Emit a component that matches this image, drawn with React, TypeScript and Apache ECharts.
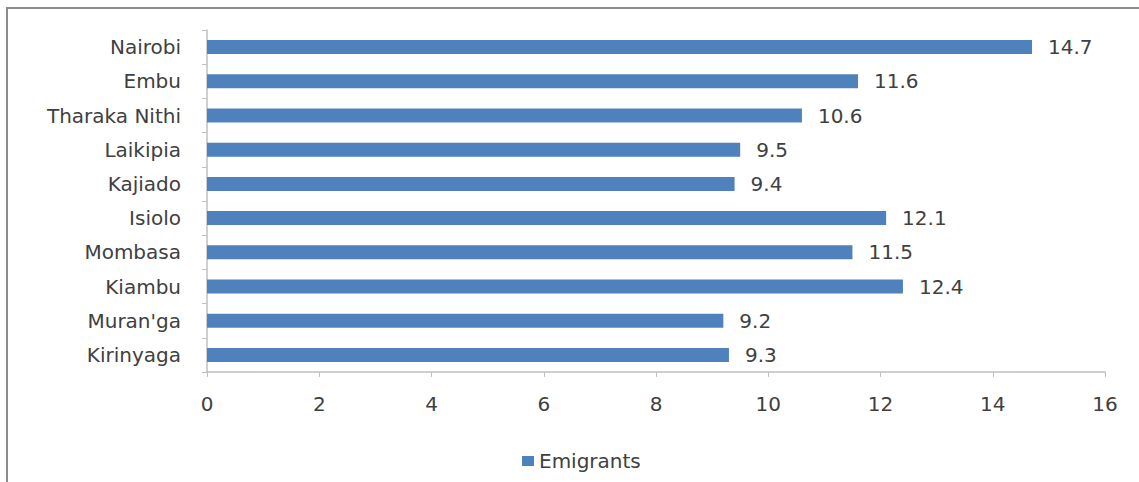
import React, { useEffect, useRef } from "react";
import * as echarts from "echarts";

const categories = ["Nairobi", "Embu", "Tharaka Nithi", "Laikipia", "Kajiado", "Isiolo", "Mombasa", "Kiambu", "Muran'ga", "Kirinyaga"];
const emigrants = [14.7, 11.6, 10.6, 9.5, 9.4, 12.1, 11.5, 12.4, 9.2, 9.3];
const seriesName = "Emigrants";

export default function App() {
  const ref = useRef<HTMLDivElement>(null);
  useEffect(() => {
    if (!ref.current) return;
    const chart = echarts.init(ref.current, null, { renderer: "svg" });
    const font = "'DejaVu Sans', sans-serif";
    const fs = 20;
    const txt = "#404040";
    chart.setOption({
      animation: false,
      backgroundColor: "#ffffff",
      textStyle: { fontFamily: font },
      graphic: [
        {
          type: "rect",
          shape: { x: 7, y: 8, width: 1145, height: 490 },
          style: { fill: "none", stroke: "#8c8c8c", lineWidth: 2 },
          silent: true,
        },
      ],
      grid: { left: 207, right: 34, top: 30, bottom: 110 },
      legend: {
        left: 517,
        top: 446,
        itemWidth: 12,
        itemHeight: 10,
        icon: "rect",
        itemGap: 8,
        data: [seriesName],
        textStyle: { fontFamily: font, fontSize: fs, color: txt },
      },
      xAxis: {
        type: "value",
        min: 0,
        max: 16,
        interval: 2,
        axisLine: { show: true, lineStyle: { color: "#bfbfbf", width: 1.5 } },
        axisTick: { show: true, length: 5, lineStyle: { color: "#bfbfbf" } },
        axisLabel: { margin: 22, fontFamily: font, fontSize: fs, color: txt },
        splitLine: { show: false },
      },
      yAxis: {
        type: "category",
        inverse: true,
        data: categories,
        axisLine: { show: true, lineStyle: { color: "#bfbfbf", width: 1.5 } },
        axisTick: { show: true, length: 5, alignWithLabel: false, lineStyle: { color: "#bfbfbf" } },
        axisLabel: { margin: 26, fontFamily: font, fontSize: fs, color: txt },
      },
      series: [
        {
          name: seriesName,
          type: "bar",
          data: emigrants,
          barWidth: 14,
          itemStyle: { color: "#4f81bd" },
          label: {
            show: true,
            position: "right",
            distance: 16,
            fontFamily: font,
            fontSize: fs,
            color: txt,
            formatter: (p: any) => Number(p.value).toFixed(1),
          },
        },
      ],
    });
    return () => chart.dispose();
  }, []);
  return (
    <div
      ref={ref}
      style={{ position: "absolute", left: 0, top: 0, width: 1139, height: 482 }}
    />
  );
}
